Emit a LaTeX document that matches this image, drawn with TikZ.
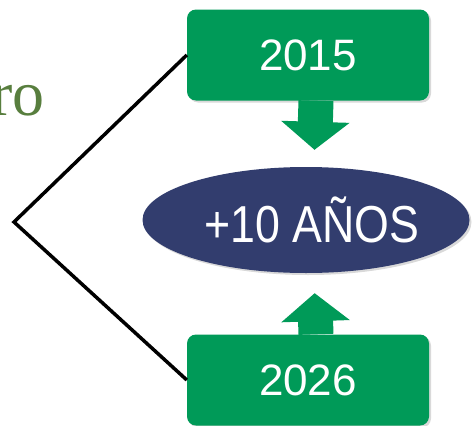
\documentclass[tikz,border=0pt]{standalone}
\usepackage{fontspec}
\setmainfont{Liberation Sans}
\newfontfamily\serifro{Liberation Serif}
\usetikzlibrary{shapes.geometric,arrows.meta,shadows}
\definecolor{boxgreen}{RGB}{0,154,88}
\definecolor{ovalblue}{RGB}{50,61,110}
\definecolor{olive}{RGB}{88,126,62}
\tikzset{
    yearbox/.style={
        rectangle, rounded corners=9pt, fill=boxgreen,
        minimum width=242pt, minimum height=91pt,
        inner sep=0pt, text=white, font=\fontsize{44}{44}\selectfont,
        drop shadow={shadow xshift=2pt, shadow yshift=-2pt, opacity=0.3, fill=gray}
    },
    oval/.style={
        ellipse, fill=ovalblue,
        minimum width=327pt, minimum height=106pt,
        inner sep=0pt, text=white, font=\fontsize{52}{52}\selectfont,
        drop shadow={shadow xshift=2pt, shadow yshift=-2pt, opacity=0.3, fill=gray}
    },
    fat/.style={line width=35pt, boxgreen, -{Triangle[width=67pt,length=28pt]}},
    link/.style={line width=3.5pt, black}
}
\begin{document}
\begin{tikzpicture}[x=1pt,y=-1pt]
    \useasboundingbox (0,0) rectangle (472,426);

    \node[anchor=base east, inner sep=0pt, text=olive,
          font=\serifro\fontsize{64}{64}\selectfont] (word) at (45,115) {ro};

    \coordinate (apex) at (14,222);
    \node[yearbox] (start) at (308,55) {2015};
    \node[yearbox] (finish) at (308,380) {2026};
    \node[oval] (span) at (306,220) {\hspace*{12pt}\scalebox{0.86}[1]{+10 AÑOS}};

    \draw[link] (start.west) -- (apex) -- (finish.west);

    \draw[fat, shorten >=17pt] ([xshift=8pt]start.south) -- ([xshift=8pt]span.north);
    \draw[fat, shorten >=20pt] ([xshift=8pt]finish.north) -- ([xshift=8pt]span.south);
\end{tikzpicture}
\end{document}
